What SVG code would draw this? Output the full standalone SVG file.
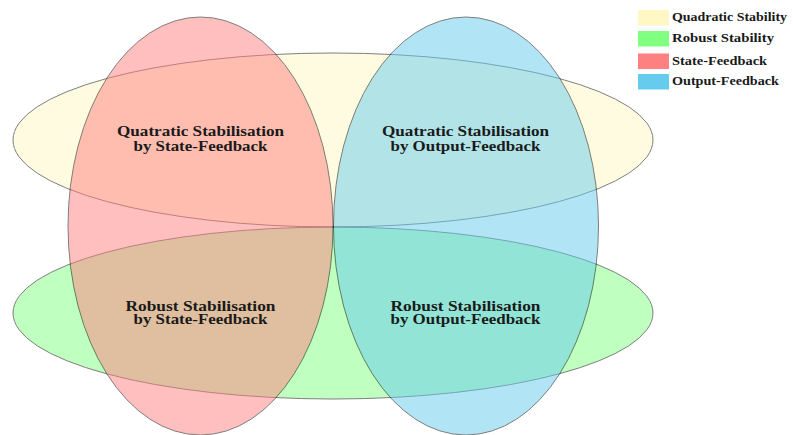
<svg xmlns="http://www.w3.org/2000/svg" width="793" height="435" viewBox="0 0 793 435">
<style>
.set{stroke:#000;stroke-width:1;opacity:0.5}
.lbl{font-family:"Liberation Serif","DejaVu Serif",serif;font-weight:bold;font-size:14px;fill:#1a1a1a;text-anchor:middle}
.leg{font-family:"Liberation Serif","DejaVu Serif",serif;font-weight:bold;font-size:11.5px;fill:#1a1a1a}
</style>
<rect width="793" height="435" fill="#fff"/>
<g id="sets">
<ellipse id="quadratic" class="set" cx="333" cy="140" rx="320" ry="87" fill="#fff8c4"/>
<ellipse id="robust" class="set" cx="333" cy="313" rx="320" ry="86" fill="#80ff80"/>
<ellipse id="state" class="set" cx="200.5" cy="226" rx="132.5" ry="209" fill="#ff8080"/>
<ellipse id="output" class="set" cx="466" cy="226" rx="132.5" ry="209" fill="#66ccee"/>
</g>
<g id="label-qs">
<text class="lbl" x="200.5" y="136" textLength="167" lengthAdjust="spacingAndGlyphs">Quatratic Stabilisation</text>
<text class="lbl" x="200.5" y="150.5" textLength="134" lengthAdjust="spacingAndGlyphs">by State-Feedback</text>
</g>
<g id="label-qo">
<text class="lbl" x="465.5" y="136" textLength="167" lengthAdjust="spacingAndGlyphs">Quatratic Stabilisation</text>
<text class="lbl" x="465.5" y="150.5" textLength="150" lengthAdjust="spacingAndGlyphs">by Output-Feedback</text>
</g>
<g id="label-rs">
<text class="lbl" x="200.5" y="310.5" textLength="150" lengthAdjust="spacingAndGlyphs">Robust Stabilisation</text>
<text class="lbl" x="200.5" y="324" textLength="134" lengthAdjust="spacingAndGlyphs">by State-Feedback</text>
</g>
<g id="label-ro">
<text class="lbl" x="465.5" y="310.5" textLength="150" lengthAdjust="spacingAndGlyphs">Robust Stabilisation</text>
<text class="lbl" x="465.5" y="324" textLength="150" lengthAdjust="spacingAndGlyphs">by Output-Feedback</text>
</g>
<g id="legend">
<g id="leg-quadratic"><rect x="638" y="10" width="31" height="15.5" fill="#fff8c4"/><text class="leg" x="672" y="21" textLength="115" lengthAdjust="spacingAndGlyphs">Quadratic Stability</text></g>
<g id="leg-robust"><rect x="638" y="31" width="31" height="15.5" fill="#80ff80"/><text class="leg" x="672" y="42" textLength="102" lengthAdjust="spacingAndGlyphs">Robust Stability</text></g>
<g id="leg-state"><rect x="638" y="53.5" width="31" height="15.5" fill="#ff8080"/><text class="leg" x="672" y="64.5" textLength="95" lengthAdjust="spacingAndGlyphs">State-Feedback</text></g>
<g id="leg-output"><rect x="638" y="74" width="31" height="15.5" fill="#66ccee"/><text class="leg" x="672" y="85" textLength="107" lengthAdjust="spacingAndGlyphs">Output-Feedback</text></g>
</g>
</svg>
